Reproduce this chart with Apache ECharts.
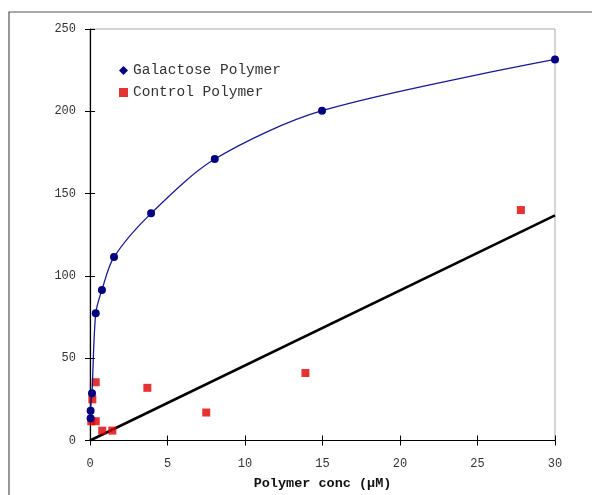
<!DOCTYPE html>
<html>
<head>
<meta charset="utf-8">
<script src="https://cdn.jsdelivr.net/npm/echarts@6/dist/echarts.min.js"></script>
<style>
  html, body { margin: 0; padding: 0; background: #fff; }
  #main { width: 592px; height: 495px; }
</style>
</head>
<body>
<div id="main"></div>
<script>
// values
const galactoseX = [0.04, 0.04, 0.13, 0.37, 0.77, 1.55, 3.94, 8.05, 14.97, 30];
const galactoseY = [13.5, 18, 28.7, 77.3, 91.5, 111.5, 138, 171, 200.4, 231.5];
const controlX = [0.08, 0.37, 0.15, 0.37, 0.79, 1.44, 3.7, 7.5, 13.9, 27.8];
const controlY = [11.7, 11.7, 25, 35.4, 6, 6, 32, 17, 41, 140];
const fitX = [0, 30];
const fitY = [0, 136.7];
const xTicks = [0, 5, 10, 15, 20, 25, 30];
const yTicks = [0, 50, 100, 150, 200, 250];

const pairs = (xs, ys) => xs.map((x, i) => [x, ys[i]]);

const chart = echarts.init(document.getElementById('main'), null, { renderer: 'canvas' });

const font = '"Liberation Mono", "DejaVu Sans Mono", monospace';

const xBase = {
  type: 'value',
  min: xTicks[0],
  max: xTicks[xTicks.length - 1],
  interval: 5,
  splitLine: { show: false }
};
const yBase = {
  type: 'value',
  min: yTicks[0],
  max: yTicks[yTicks.length - 1],
  interval: 50,
  splitLine: { show: false }
};

chart.setOption({
  animation: false,
  backgroundColor: '#fff',
  graphic: [{
    type: 'rect',
    shape: { x: 9, y: 12, width: 700, height: 600 },
    style: { fill: 'none', stroke: '#555', lineWidth: 1.2 },
    silent: true
  }],
  grid: {
    left: 90, right: 37, top: 29, bottom: 54.5,
    outerBoundsMode: 'none',
    containLabel: false,
    show: true,
    borderColor: '#aaa',
    borderWidth: 1
  },
  legend: [{
    left: 114, top: 58,
    orient: 'vertical',
    itemGap: 7,
    itemWidth: 9, itemHeight: 9,
    textStyle: { fontFamily: font, fontSize: 14.5, color: '#333' },
    data: [
      { name: 'Galactose Polymer', icon: 'diamond' },
      { name: 'Control Polymer', icon: 'rect' }
    ]
  }],
  xAxis: [
    Object.assign({}, xBase, {
      name: 'Polymer conc (µM)',
      nameLocation: 'middle',
      nameGap: 36,
      nameTextStyle: { fontFamily: font, fontSize: 13.5, fontWeight: 'bold', color: '#111' },
      axisLine: { onZero: false, lineStyle: { color: '#000', width: 1.2 } },
      axisTick: { length: 5, lineStyle: { color: '#000' } },
      axisLabel: { margin: 17, fontFamily: font, fontSize: 12, color: '#333' }
    }),
    Object.assign({}, xBase, {
      position: 'bottom',
      axisLine: { show: false },
      axisTick: { inside: true, length: 5, lineStyle: { color: '#000' } },
      axisLabel: { show: false }
    })
  ],
  yAxis: [
    Object.assign({}, yBase, {
      axisLine: { onZero: false, lineStyle: { color: '#000', width: 1.2 } },
      axisTick: { length: 5, lineStyle: { color: '#000' } },
      axisLabel: { margin: 14, fontFamily: font, fontSize: 12, color: '#333' }
    }),
    Object.assign({}, yBase, {
      position: 'left',
      axisLine: { show: false },
      axisTick: { inside: true, length: 5, lineStyle: { color: '#000' } },
      axisLabel: { show: false }
    })
  ],
  series: [
    {
      name: 'Fit',
      type: 'line',
      data: pairs(fitX, fitY),
      showSymbol: false,
      lineStyle: { color: '#000', width: 2.5 },
      z: 2
    },
    {
      name: 'Galactose Polymer',
      type: 'line',
      data: pairs(galactoseX, galactoseY),
      smooth: 0.3,
      symbol: 'circle',
      symbolSize: 8,
      itemStyle: { color: '#000080' },
      lineStyle: { color: '#1a1a90', width: 1.3 },
      z: 4
    },
    {
      name: 'Control Polymer',
      type: 'scatter',
      data: pairs(controlX, controlY),
      symbol: 'rect',
      symbolSize: 8,
      itemStyle: { color: '#dd0000' },
      z: 3
    }
  ]
});
</script>
</body>
</html>
